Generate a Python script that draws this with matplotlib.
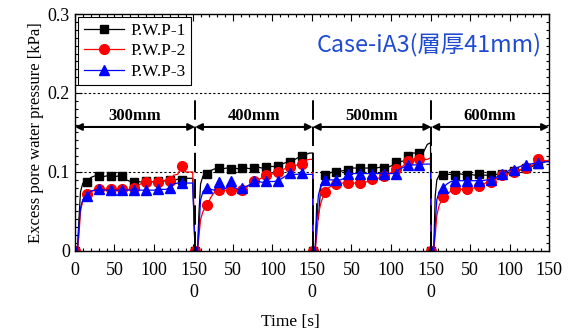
import matplotlib
matplotlib.use('Agg')
import matplotlib.pyplot as plt
from matplotlib.ticker import MultipleLocator
import numpy as np

plt.rcParams['font.family'] = 'Liberation Serif'

# time inside each loading stage [s]
T_LOCAL = [0, 3, 5, 7, 10, 15, 20, 25, 30, 35, 40, 45, 50, 55, 60, 65, 70, 75, 80,
           85, 90, 95, 100, 105, 110, 115, 120, 125, 130, 135, 140, 145, 149]
STAGE_START = [0, 152, 301, 451]
STAGES = ['300mm', '400mm', '500mm', '600mm']

# excess pore water pressure [kPa], one list per stage
PWP1 = [
    [0, 0, 0.04, 0.075, 0.086, 0.087, 0.093, 0.095, 0.095, 0.094, 0.095, 0.095, 0.094, 0.095, 0.095, 0.090, 0.088,
     0.087, 0.088, 0.087, 0.088, 0.087, 0.088, 0.089, 0.088, 0.089, 0.090, 0.089, 0.091, 0.090, 0.092, 0.092, 0.092],
    [0, 0, 0.05, 0.085, 0.095, 0.097, 0.102, 0.104, 0.105, 0.104, 0.105, 0.104, 0.105, 0.104, 0.105, 0.105, 0.104,
     0.105, 0.106, 0.105, 0.106, 0.107, 0.107, 0.108, 0.110, 0.112, 0.113, 0.115, 0.118, 0.120, 0.122, 0.124, 0.124],
    [0, 0, 0.06, 0.04, 0.08, 0.096, 0.098, 0.100, 0.100, 0.101, 0.102, 0.103, 0.105, 0.105, 0.105, 0.105, 0.105,
     0.105, 0.105, 0.106, 0.105, 0.106, 0.108, 0.113, 0.113, 0.114, 0.120, 0.124, 0.124, 0.124, 0.125, 0.135, 0.137],
    [0, 0, 0.07, 0.090, 0.096, 0.096, 0.097, 0.097, 0.096, 0.098, 0.097, 0.096, 0.097, 0.096, 0.097, 0.096, 0.096,
     0.096, 0.097, 0.097, 0.098, 0.098, 0.100, 0.101, 0.102, 0.103, 0.105, 0.106, 0.108, 0.110, 0.112, 0.113, 0.114],
]
PWP2 = [
    [0, 0, 0.02, 0.05, 0.065, 0.072, 0.075, 0.077, 0.078, 0.078, 0.078, 0.078, 0.078, 0.078, 0.078, 0.078, 0.078,
     0.080, 0.083, 0.086, 0.087, 0.087, 0.088, 0.087, 0.088, 0.090, 0.088, 0.096, 0.097, 0.107, 0.100, 0.100, 0.100],
    [0, 0, 0.02, 0.04, 0.05, 0.058, 0.068, 0.075, 0.077, 0.077, 0.077, 0.077, 0.077, 0.077, 0.077, 0.080, 0.085,
     0.088, 0.090, 0.093, 0.096, 0.097, 0.098, 0.100, 0.102, 0.105, 0.106, 0.108, 0.109, 0.110, 0.115, 0.116, 0.116],
    [0, 0, 0.02, 0.045, 0.06, 0.075, 0.080, 0.083, 0.085, 0.086, 0.086, 0.086, 0.086, 0.086, 0.086, 0.087, 0.088,
     0.091, 0.091, 0.093, 0.095, 0.097, 0.100, 0.104, 0.106, 0.108, 0.114, 0.116, 0.116, 0.116, 0.116, 0.116, 0.118],
    [0, 0, 0.02, 0.045, 0.058, 0.068, 0.072, 0.076, 0.078, 0.078, 0.078, 0.078, 0.079, 0.080, 0.082, 0.084, 0.087,
     0.087, 0.090, 0.093, 0.096, 0.097, 0.098, 0.100, 0.102, 0.104, 0.105, 0.107, 0.110, 0.116, 0.116, 0.114, 0.115],
]
PWP3 = [
    [0, 0, 0.03, 0.055, 0.065, 0.070, 0.076, 0.077, 0.078, 0.077, 0.077, 0.077, 0.077, 0.077, 0.077, 0.077, 0.077,
     0.077, 0.077, 0.077, 0.077, 0.077, 0.077, 0.078, 0.078, 0.078, 0.080, 0.085, 0.086, 0.086, 0.086, 0.086, 0.086],
    [0, 0, 0.03, 0.065, 0.075, 0.080, 0.078, 0.077, 0.087, 0.078, 0.080, 0.088, 0.080, 0.078, 0.080, 0.082, 0.084,
     0.088, 0.088, 0.087, 0.088, 0.088, 0.088, 0.089, 0.092, 0.095, 0.099, 0.097, 0.097, 0.099, 0.097, 0.097, 0.097],
    [0, 0, 0.04, 0.07, 0.082, 0.090, 0.090, 0.090, 0.090, 0.090, 0.092, 0.098, 0.098, 0.098, 0.098, 0.098, 0.098,
     0.098, 0.098, 0.098, 0.098, 0.098, 0.098, 0.098, 0.104, 0.106, 0.109, 0.109, 0.109, 0.109, 0.110, 0.110, 0.110],
    [0, 0, 0.035, 0.065, 0.075, 0.080, 0.085, 0.088, 0.089, 0.089, 0.089, 0.089, 0.089, 0.089, 0.089, 0.089, 0.090,
     0.090, 0.092, 0.095, 0.098, 0.100, 0.103, 0.103, 0.106, 0.108, 0.109, 0.110, 0.111, 0.111, 0.112, 0.113, 0.113],
]

fig = plt.figure(figsize=(5.79, 3.31), dpi=100)
ax = fig.add_axes([0.1295, 0.2417, 0.8187, 0.716])

t_all = np.concatenate([np.array(T_LOCAL) + s for s in STAGE_START])
n = len(T_LOCAL)
mark_idx = [k * n + i for k in range(len(STAGE_START)) for i, t in enumerate(T_LOCAL) if t % 15 == 0]

series = [
    (PWP1, 'black', 's', 6, 'P.W.P-1'),
    (PWP2, 'red', 'o', 7, 'P.W.P-2'),
    (PWP3, 'blue', '^', 7, 'P.W.P-3'),
]
for vals, color, marker, ms, label in series:
    ax.plot(t_all, np.concatenate(vals), color=color, lw=0.9, marker=marker, ms=ms,
            markevery=mark_idx, label=label)

# reference levels
for y in (0.1, 0.2):
    ax.axhline(y, color='black', lw=0.8, ls=(0, (2, 2)), zorder=1)

# stage boundaries and stage spans
ends = STAGE_START[1:] + [600]
for s in STAGE_START[1:]:
    ax.plot([s, s], [0, 0.197], color='black', lw=1.4, dashes=(10, 3.5), zorder=4)
for s, e, name in zip(STAGE_START, ends, STAGES):
    ax.annotate('', xy=(s, 0.157), xytext=(e, 0.157),
                arrowprops=dict(arrowstyle='<|-|>', color='black', lw=1.5,
                                shrinkA=0, shrinkB=0, mutation_scale=10))
    ax.text((s + e) / 2, 0.161, name, ha='center', va='bottom', fontsize=12, fontweight='bold')

ax.text(0.985, 0.87, 'Case-iA3(層厚41mm)', transform=ax.transAxes, ha='right', va='center',
        fontsize=16.8, color='#1e4bd2', family=['Noto Sans CJK JP', 'DejaVu Sans'])

ax.set_xlim(0, 600)
ax.set_ylim(0, 0.3)
xt = list(range(0, 601, 50))
xl = ['0', '50', '100', '150\n0', '50', '100', '150\n0', '50', '100', '150\n0', '50', '100', '150']
ax.set_xticks(xt)
ax.set_xticklabels(xl, linespacing=1.35)
ax.set_yticks([0, 0.1, 0.2, 0.3])
ax.set_yticklabels(['0', '0.1', '0.2', '0.3'])
ax.xaxis.set_minor_locator(MultipleLocator(10))
ax.yaxis.set_minor_locator(MultipleLocator(0.01))
ax.tick_params(which='both', direction='in', top=True, right=True, labelsize=13, width=0.8)
ax.tick_params(which='major', length=5)
ax.tick_params(which='minor', length=2.5)
ax.tick_params(axis='x', pad=8)
for sp in ax.spines.values():
    sp.set_linewidth(1.0)

ax.set_xlabel('Time [s]', fontsize=12.5)
ax.xaxis.set_label_coords(0.455, -0.265)
ax.set_ylabel('Excess pore water pressure [kPa]', fontsize=12, labelpad=3)

leg = ax.legend(loc='upper left', fontsize=12.5, frameon=True, fancybox=False, edgecolor='black',
                framealpha=1, borderaxespad=0.2, handlelength=2.3, borderpad=0.3,
                labelspacing=0.25, handletextpad=0.4)
leg.get_frame().set_linewidth(0.8)

fig.savefig('out.png', dpi=100)
